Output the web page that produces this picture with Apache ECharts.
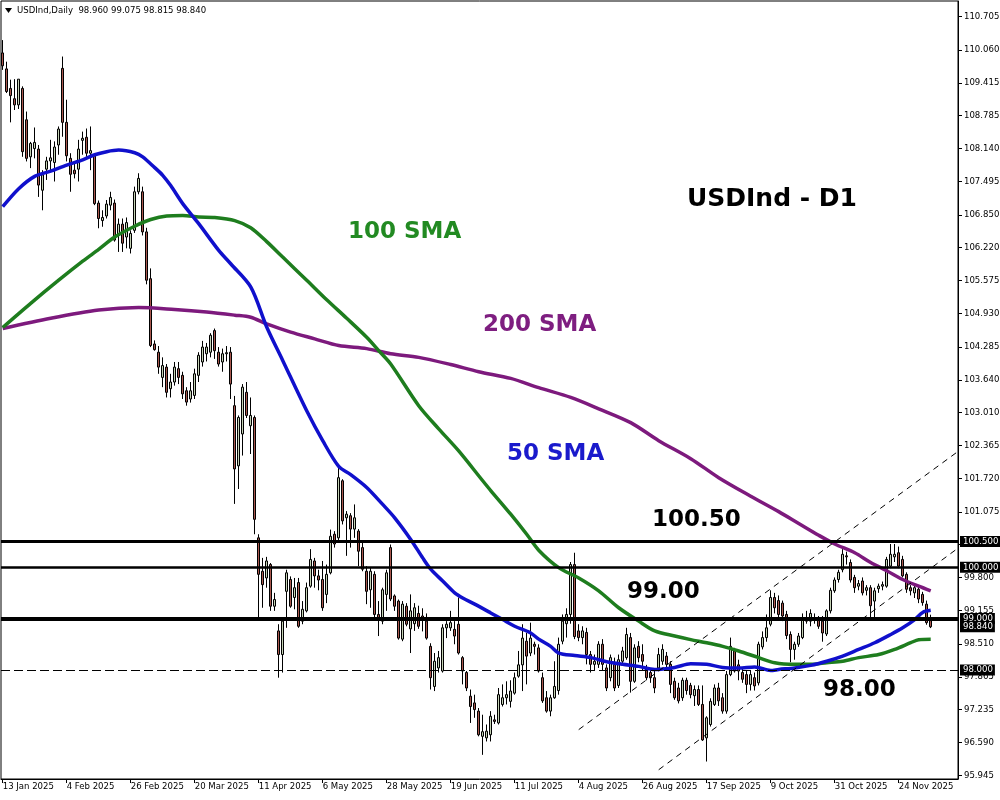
<!DOCTYPE html>
<html><head><meta charset="utf-8">
<script src="https://cdn.jsdelivr.net/npm/echarts@6/dist/echarts.min.js"></script>
<style>html,body{margin:0;padding:0;background:#fff}#c{width:1000px;height:800px}</style>
</head><body><div id="c"></div>
<script>
// ---- daily OHLC (one value per trading day, from 13 Jan 2025) ----
const opens = [110.00,109.69,109.31,109.11,108.99,109.31,108.70,107.98,108.14,108.13,107.33,107.74,107.90,107.87,108.21,109.70,108.65,107.95,107.72,107.74,108.30,108.36,108.05,108.02,107.08,106.74,106.83,107.04,107.08,106.46,106.67,106.42,106.20,106.55,107.30,107.30,106.52,105.61,104.34,104.18,103.69,103.89,103.47,103.60,103.86,103.73,103.43,103.27,103.34,103.73,103.99,104.15,104.18,104.60,104.18,103.99,104.15,104.18,103.14,101.97,102.59,103.40,102.75,102.91,100.57,99.92,99.79,100.05,99.24,98.76,98.30,99.53,99.76,99.41,99.70,98.95,99.15,99.63,100.12,99.83,99.76,99.47,99.89,100.64,100.57,101.68,100.96,101.00,100.74,100.70,100.38,99.92,99.56,99.86,99.08,98.95,99.47,100.38,99.44,99.34,98.60,99.24,98.80,98.90,99.10,99.05,98.95,98.46,97.68,98.04,97.98,98.82,98.82,98.79,98.89,98.24,97.95,97.49,97.36,97.20,96.71,96.68,96.74,97.03,96.97,97.33,97.46,97.39,97.55,97.88,98.10,98.56,98.33,98.50,98.43,97.85,97.46,97.20,97.46,97.60,98.56,98.90,99.08,100.05,98.76,98.63,98.73,98.30,98.11,98.11,98.50,98.04,97.85,98.11,97.70,98.17,98.24,98.63,97.78,98.46,98.30,98.04,97.95,97.85,98.04,98.17,98.27,98.11,97.78,97.65,97.46,97.80,97.70,97.50,97.62,97.33,96.68,96.94,97.33,97.65,97.46,97.20,97.91,98.37,98.10,97.95,97.91,97.72,97.85,97.75,98.45,98.63,98.89,99.41,99.35,99.30,99.08,98.69,98.40,98.50,98.63,98.98,98.95,99.00,98.98,98.95,98.70,99.15,99.54,99.76,99.95,100.22,100.09,99.80,99.63,99.73,99.55,99.60,99.34,99.58,99.63,99.63,100.02,100.20,100.28,100.15,99.86,99.60,99.50,99.57,99.47,99.28,98.96];
const highs = [110.25,109.83,109.48,109.49,109.49,109.35,108.86,108.27,108.55,108.21,107.72,107.98,108.31,108.28,108.57,109.93,109.09,108.05,107.89,108.31,108.47,108.53,108.57,108.05,107.13,106.94,107.14,107.30,107.15,106.78,106.78,106.80,106.55,107.40,107.66,107.40,106.60,105.81,104.41,104.30,104.08,103.95,103.76,103.99,103.99,103.80,103.50,103.60,103.86,104.18,104.40,104.36,104.55,104.64,104.28,104.25,104.30,104.28,103.33,102.95,103.56,103.60,103.30,102.95,100.64,100.18,100.20,100.08,99.50,98.89,99.02,99.95,99.82,99.79,99.79,99.34,99.70,100.35,100.18,99.95,100.12,100.05,100.73,100.70,101.94,101.71,101.09,101.05,101.22,100.74,100.51,100.02,99.99,99.92,99.34,99.60,99.95,100.44,99.47,99.37,99.34,99.30,99.47,99.30,99.25,99.20,99.10,98.52,98.33,98.37,98.89,98.95,99.15,98.95,99.41,98.27,97.98,97.62,97.52,97.26,97.13,96.94,97.20,97.13,97.65,97.72,97.78,97.80,97.95,98.37,98.89,98.72,98.92,98.55,98.50,97.95,97.59,97.52,98.17,98.63,99.08,99.20,100.10,100.28,98.89,98.85,98.82,98.37,98.30,98.56,98.60,98.11,98.30,98.24,98.30,98.45,98.82,98.72,98.50,98.56,98.50,98.10,98.00,97.98,98.43,98.50,98.35,98.17,97.85,97.75,97.85,97.85,97.75,97.70,97.70,97.70,97.10,97.45,97.72,97.75,97.55,97.98,98.63,98.43,98.20,98.05,97.98,98.00,97.95,98.55,98.75,99.08,99.55,99.50,99.45,99.35,99.15,98.75,98.55,98.72,99.10,99.15,99.18,99.10,99.05,99.05,99.18,99.60,99.80,99.95,100.35,100.30,100.15,99.85,99.75,99.80,99.65,99.65,99.60,99.68,99.72,100.20,100.45,100.45,100.40,100.22,99.90,99.65,99.65,99.62,99.52,99.35,99.075];
const lows = [109.67,109.22,108.65,108.89,108.91,107.98,107.89,107.76,107.95,107.20,106.94,107.53,107.72,107.50,108.02,108.37,107.89,107.30,107.56,107.50,108.02,107.98,107.72,107.04,106.59,106.62,106.78,106.94,106.33,106.13,106.13,106.20,106.10,106.50,107.25,106.45,105.50,104.28,104.21,103.76,103.50,103.30,103.30,103.53,103.56,103.27,103.14,103.20,103.27,103.60,103.90,104.00,104.08,104.05,103.90,103.80,104.00,103.27,101.23,101.52,102.17,102.90,102.20,100.64,99.02,99.21,99.60,99.15,99.15,97.85,97.95,98.82,99.21,99.18,98.82,98.89,99.12,99.60,99.60,99.55,99.15,99.30,99.86,100.38,100.50,100.83,100.22,100.38,100.57,100.02,99.92,99.28,99.21,99.02,98.66,98.89,99.15,99.34,99.15,98.59,98.56,98.85,98.33,98.76,98.80,98.75,98.59,97.62,97.59,97.95,97.95,98.62,98.76,98.50,98.30,97.72,97.59,96.97,97.07,96.71,96.35,96.61,96.61,96.95,96.94,97.29,97.33,97.27,97.52,97.85,97.59,97.72,98.27,98.30,97.95,97.36,97.17,97.10,97.44,97.52,98.50,98.63,98.90,98.60,98.56,98.50,98.11,97.95,97.98,98.04,98.00,97.59,97.78,97.59,97.65,98.10,98.20,97.56,97.75,98.15,98.00,97.80,97.75,97.55,97.98,98.10,98.00,97.55,97.42,97.35,97.40,97.52,97.45,97.30,97.30,96.62,96.22,96.90,97.30,97.30,97.15,97.15,97.88,97.95,97.80,97.75,97.55,97.60,97.60,97.70,98.40,98.55,98.85,99.10,98.98,98.95,98.60,98.15,98.20,98.45,98.60,98.90,98.85,98.90,98.80,98.55,98.66,99.10,99.50,99.70,99.90,100.05,99.70,99.50,99.55,99.45,99.45,99.02,99.02,99.50,99.55,99.60,99.98,100.10,99.98,99.80,99.50,99.45,99.40,99.30,99.25,98.88,98.815];
const closes = [109.75,109.25,109.17,108.99,109.49,108.08,107.95,108.24,108.26,107.43,107.63,107.90,107.96,108.17,108.52,108.65,108.00,107.64,107.65,108.13,108.34,108.05,108.10,107.07,106.78,106.80,107.06,107.19,106.36,106.67,106.30,106.70,106.49,107.30,107.56,106.52,105.58,104.31,104.23,103.89,103.92,103.40,103.60,103.89,103.69,103.37,103.21,103.43,103.76,104.12,104.28,104.28,104.51,104.21,103.95,104.15,104.17,103.56,101.91,102.91,103.50,102.95,102.95,100.93,99.86,99.66,100.12,99.24,99.37,98.30,98.95,99.89,99.24,99.60,98.85,99.18,99.60,100.15,99.83,99.75,99.21,99.86,100.60,100.45,101.74,100.90,101.03,100.74,100.96,100.31,99.96,99.53,99.92,99.08,99.00,99.56,99.89,99.38,99.24,98.62,99.28,98.89,99.15,99.21,98.85,99.02,98.62,97.85,98.17,98.24,98.82,98.89,98.92,98.66,98.33,97.98,97.65,97.29,97.23,96.74,96.80,96.81,97.10,97.00,97.52,97.46,97.52,97.59,97.85,98.10,98.62,98.27,98.62,98.46,97.98,97.40,97.20,97.46,97.68,98.50,98.95,99.08,100.05,98.65,98.63,98.76,98.30,98.11,98.17,98.50,98.11,97.65,98.24,97.65,98.20,98.37,98.69,97.78,98.43,98.24,98.17,97.85,97.85,97.65,98.30,98.40,98.11,97.72,97.46,97.40,97.80,97.60,97.52,97.62,97.33,96.64,97.07,97.39,97.65,97.40,97.20,97.91,98.46,97.98,97.98,97.82,97.72,97.91,97.69,98.50,98.63,98.82,99.41,99.21,99.08,99.05,98.67,98.40,98.50,98.66,99.00,98.95,99.10,98.98,98.85,98.72,99.15,99.55,99.75,99.90,100.25,100.20,99.75,99.60,99.68,99.50,99.60,99.25,99.54,99.63,99.66,100.15,100.25,100.25,100.02,99.83,99.57,99.54,99.60,99.38,99.31,98.92,98.84];

// ---- moving averages: [bar index, value] ----
const sma50 = [[0,107.01],[4,107.36],[8,107.60],[12,107.70],[16,107.82],[20,107.92],[23,108.02],[26,108.08],[29,108.11],[33,108.06],[35,107.98],[38,107.77],[40,107.62],[42,107.42],[45,107.07],[49,106.68],[54,106.16],[57,105.90],[62,105.45],[66,104.67],[70,104.02],[76,103.04],[80,102.46],[84,101.96],[87,101.80],[91,101.55],[95,101.22],[98,100.96],[102,100.54],[105,100.18],[107,99.96],[110,99.73],[113,99.50],[115,99.40],[118,99.28],[122,99.11],[125,98.98],[128,98.85],[132,98.72],[134,98.60],[137,98.46],[139,98.33],[143,98.28],[147,98.24],[151,98.16],[155,98.11],[159,98.07],[163,98.01],[168,98.05],[172,98.12],[176,98.11],[180,98.05],[184,98.04],[188,98.06],[192,97.99],[194,98.01],[198,98.04],[202,98.09],[206,98.17],[210,98.27],[214,98.40],[218,98.53],[222,98.69],[225,98.82],[228,98.98],[230,99.12],[232,99.16]];
const sma100 = [[0,104.66],[7,105.13],[14,105.58],[20,105.95],[24,106.18],[28,106.42],[33,106.63],[37,106.76],[41,106.83],[45,106.84],[49,106.81],[53,106.80],[58,106.74],[62,106.60],[66,106.33],[70,106.03],[76,105.58],[81,105.20],[86,104.84],[91,104.47],[94,104.21],[97,103.95],[104,103.14],[109,102.69],[114,102.26],[120,101.68],[122,101.49],[127,101.03],[131,100.64],[134,100.33],[139,99.99],[144,99.79],[149,99.54],[154,99.21],[159,98.95],[163,98.76],[168,98.66],[172,98.59],[176,98.53],[180,98.46],[184,98.37],[189,98.24],[193,98.14],[198,98.11],[202,98.11],[206,98.14],[210,98.17],[214,98.24],[219,98.30],[223,98.40],[227,98.53],[229,98.59],[232,98.60]];
const sma200 = [[0,104.64],[12,104.84],[24,105.00],[34,105.05],[43,105.01],[51,104.96],[58,104.90],[62,104.86],[66,104.73],[72,104.57],[78,104.44],[84,104.31],[91,104.25],[97,104.15],[104,104.08],[112,103.94],[119,103.80],[127,103.67],[134,103.49],[142,103.30],[149,103.08],[157,102.81],[164,102.46],[172,102.11],[179,101.74],[187,101.38],[194,101.08],[199,100.85],[204,100.62],[208,100.45],[213,100.28],[217,100.09],[221,99.93],[225,99.76],[229,99.63],[232,99.54]];

// ---- trend channel (dashed) and horizontal levels ----
const channelUpper = [[144,96.84],[239,102.26]];
const channelLower = [[164,96.06],[239,100.38]];
const levelLines = [100.5, 100.0, 99.0, 98.0];
const lastPrice = 98.84;

// ---- axis tick labels ----
const yTicks = [110.705,110.060,109.415,108.785,108.140,107.495,106.850,106.220,105.575,104.930,104.285,103.640,103.010,102.365,101.720,101.075,100.445,99.800,99.155,98.510,97.865,97.235,96.590,95.945];
const xTickLabels = ['13 Jan 2025','4 Feb 2025','26 Feb 2025','20 Mar 2025','11 Apr 2025','6 May 2025','28 May 2025','19 Jun 2025','11 Jul 2025','4 Aug 2025','26 Aug 2025','17 Sep 2025','9 Oct 2025','31 Oct 2025','24 Nov 2025'];
const xTickIndex = xTickLabels.map((_, k) => k * 16);

const FONT = "'DejaVu Sans Condensed','DejaVu Sans',sans-serif";
const FS = 9.5;
const ohlc = opens.map((o, i) => [i, o, closes[i], lows[i], highs[i]]);

const chart = echarts.init(document.getElementById('c'), null, {renderer: 'canvas'});
const levelStyles = [
  {color: '#000', width: 3, type: 'solid'},
  {color: '#000', width: 2.5, type: 'solid'},
  {color: '#000', width: 4, type: 'solid'},
  {color: '#000', width: 1, type: [9, 4]}
];
const mlData = levelLines.map((v, k) => ({yAxis: v, lineStyle: levelStyles[k]}));
mlData.push({yAxis: lastPrice, lineStyle: {color: 'rgba(0,0,0,0)', width: 0}});

chart.setOption({
  animation: false,
  backgroundColor: '#fff',
  grid: {left: 1, right: 42, top: 1, bottom: 21, show: true, borderColor: '#000', borderWidth: 1, backgroundColor: '#fff', containLabel: false, outerBoundsMode: 'none'},
  xAxis: {
    type: 'value', min: -0.425, max: 238.825,
    axisLine: {show: true, onZero: false, lineStyle: {color: '#000', width: 1}},
    axisTick: {show: true, customValues: xTickIndex, length: 4, lineStyle: {color: '#000'}},
    axisLabel: {customValues: xTickIndex, formatter: v => xTickLabels[Math.round(v / 16)] || '', align: 'left', margin: 3, color: '#000', fontFamily: FONT, fontSize: FS},
    splitLine: {show: false}
  },
  yAxis: {
    type: 'value', position: 'right', min: 95.880, max: 111.010,
    axisLine: {show: true, onZero: false, lineStyle: {color: '#000', width: 1}},
    axisTick: {show: true, customValues: yTicks, length: 4, lineStyle: {color: '#000'}},
    axisLabel: {customValues: yTicks, formatter: v => v.toFixed(3), margin: 6, color: '#000', fontFamily: FONT, fontSize: FS},
    splitLine: {show: false}
  },
  series: [
    {
      type: 'candlestick', data: ohlc, encode: {x: 0, y: [1, 2, 3, 4]}, barWidth: 3, z: 2,
      itemStyle: {color: '#c6d3b6', color0: '#a9574e', borderColor: '#000', borderColor0: '#000', borderWidth: 1}
    },
    {type: 'line', data: sma200, smooth: 0.3, symbol: 'none', z: 3, lineStyle: {color: '#7d1a7d', width: 3.5}},
    {type: 'line', data: sma100, smooth: 0.3, symbol: 'none', z: 3, lineStyle: {color: '#1e7d1e', width: 3.5}},
    {type: 'line', data: sma50, smooth: 0.3, symbol: 'none', z: 3, lineStyle: {color: '#1010cc', width: 3.5}},
    {type: 'line', data: channelLower, symbol: 'none', z: 4, lineStyle: {color: '#000', width: 1, type: [6, 5]}},
    {
      type: 'line', data: channelUpper, symbol: 'none', z: 4, lineStyle: {color: '#000', width: 1, type: [6, 5]},
      markLine: {
        silent: true, symbol: ['none', 'none'], animation: false, z: 5,
        label: {show: true, position: 'end', distance: 2, color: '#fff', backgroundColor: '#000', padding: [1, 2, 0, 3], fontFamily: FONT, fontSize: FS, formatter: p => Number(p.value).toFixed(3)},
        data: mlData
      }
    }
  ],
  graphic: [
    {type: 'polygon', z: 100, shape: {points: [[5, 8], [12, 8], [8.5, 13]]}, style: {fill: '#000'}},
    {type: 'text', z: 100, x: 17, y: 11, style: {text: 'USDInd,Daily  98.960 99.075 98.815 98.840', font: FS + "px " + FONT, fill: '#000', verticalAlign: 'middle'}},
    {type: 'text', z: 100, x: 687, y: 199, style: {text: 'USDInd - D1', font: "bold 25px 'DejaVu Sans',sans-serif", fill: '#000', verticalAlign: 'middle'}},
    {type: 'text', z: 100, x: 348, y: 232, style: {text: '100 SMA', font: "bold 23px 'DejaVu Sans',sans-serif", fill: '#228a22', verticalAlign: 'middle'}},
    {type: 'text', z: 100, x: 483, y: 325, style: {text: '200 SMA', font: "bold 23px 'DejaVu Sans',sans-serif", fill: '#7e1e80', verticalAlign: 'middle'}},
    {type: 'text', z: 100, x: 507, y: 454, style: {text: '50 SMA', font: "bold 23px 'DejaVu Sans',sans-serif", fill: '#1a1acc', verticalAlign: 'middle'}},
    {type: 'text', z: 100, x: 652, y: 520, style: {text: '100.50', font: "bold 23px 'DejaVu Sans',sans-serif", fill: '#000', verticalAlign: 'middle'}},
    {type: 'text', z: 100, x: 627, y: 592, style: {text: '99.00', font: "bold 23px 'DejaVu Sans',sans-serif", fill: '#000', verticalAlign: 'middle'}},
    {type: 'text', z: 100, x: 823, y: 690, style: {text: '98.00', font: "bold 23px 'DejaVu Sans',sans-serif", fill: '#000', verticalAlign: 'middle'}}
  ]
});
</script>
</body></html>
